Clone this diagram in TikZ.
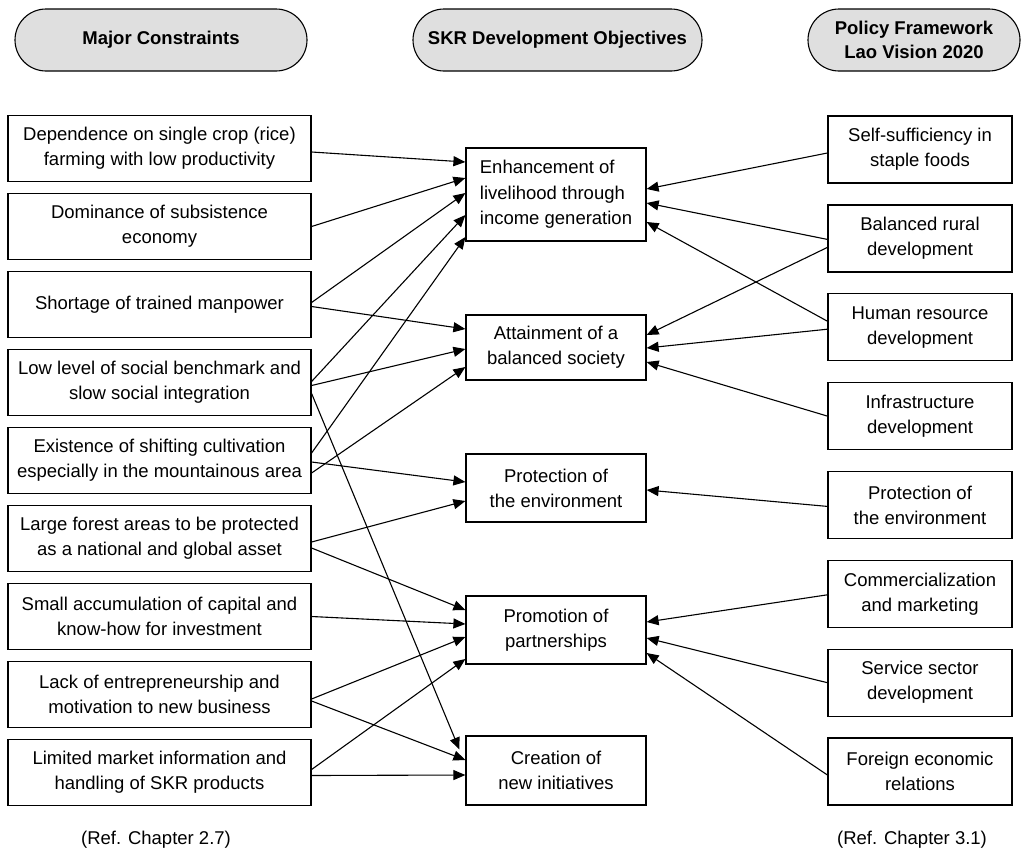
\documentclass[tikz,border=0pt]{standalone}
\usepackage{fontspec}
\setmainfont{Liberation Sans}
\usetikzlibrary{arrows.meta,shapes.misc,calc}

% connector from a constraint box (east side) to an objective box (west side)
\newcommand\lkL[4]{\draw[link] ($(#1.east)+(0,#2)$) -- ($(#3.west)+(0,#4)$);}
% connector from a policy box (west side) to an objective box (east side)
\newcommand\lkR[4]{\draw[link] ($(#1.west)+(0,#2)$) -- ($(#3.east)+(0,#4)$);}

\begin{document}
\begin{tikzpicture}[x=1pt,y=-1pt,
  every node/.style={font=\fontsize{18.5}{25}\selectfont},
  box/.style={draw, line width=1.2pt, inner sep=0pt, align=center},
  lbox/.style={box, minimum width=303pt, minimum height=66pt},
  mbox/.style={box, minimum width=180pt, minimum height=67pt},
  rbox/.style={box, minimum width=184pt, minimum height=67pt},
  head/.style={draw, line width=1.1pt, fill=gray!25, rounded rectangle,
    minimum height=62pt, inner sep=0pt, align=center,
    font=\bfseries\fontsize{18.5}{24}\selectfont},
  link/.style={line width=1.1pt, -{Triangle[length=12pt,width=10pt]}}
]
\useasboundingbox (0,0) rectangle (1022,857);

% column headers
\node[head, minimum width=292pt] (h1) at (161,40) {Major Constraints};
\node[head, minimum width=289pt] (h2) at (557.5,40) {SKR Development Objectives};
\node[head, minimum width=212pt] (h3) at (914,40) {Policy Framework\\Lao Vision 2020};

% constraints
\node[lbox] (l1) at (159.5,148.5) {Dependence on single crop (rice)\\farming with low productivity};
\node[lbox] (l2) at (159.5,226.5) {Dominance of subsistence\\economy};
\node[lbox] (l3) at (159.5,304.5) {Shortage of trained manpower};
\node[lbox] (l4) at (159.5,382.5) {Low level of social benchmark and\\slow social integration};
\node[lbox] (l5) at (159.5,460.5) {Existence of shifting cultivation\\especially in the mountainous area};
\node[lbox] (l6) at (159.5,538.5) {Large forest areas to be protected\\as a national and global asset};
\node[lbox] (l7) at (159.5,616.5) {Small accumulation of capital and\\know-how for investment};
\node[lbox] (l8) at (159.5,694.5) {Lack of entrepreneurship and\\motivation to new business};
\node[lbox] (l9) at (159.5,772.5) {Limited market information and\\handling of SKR products};

% objectives
\node[mbox, minimum height=93pt, align=left, font=\fontsize{18.5}{25.5}\selectfont] (en) at (556,194.5) {Enhancement of\\livelihood through\\income generation};
\node[mbox, minimum height=65pt] (at) at (556,347.5) {Attainment of a\\balanced society};
\node[mbox, minimum height=68pt] (pr) at (556,488) {Protection of\\the environment};
\node[mbox, minimum height=68pt] (pm) at (556,630) {Promotion of\\partnerships};
\node[mbox, minimum height=69pt] (cr) at (556,770.5) {Creation of\\new initiatives};

% policy framework
\node[rbox] (r1) at (920,149.5) {Self-sufficiency in\\staple foods};
\node[rbox] (r2) at (920,238.4) {Balanced rural\\development};
\node[rbox] (r3) at (920,327.2) {Human resource\\development};
\node[rbox] (r4) at (920,416.1) {Infrastructure\\development};
\node[rbox] (r5) at (920,504.9) {Protection of\\the environment};
\node[rbox] (r6) at (920,593.8) {Commercialization\\and marketing};
\node[rbox] (r7) at (920,682.7) {Service sector\\development};
\node[rbox] (r8) at (920,771.5) {Foreign economic\\relations};

% references
\node (f1) at (156,840) {(Ref. Chapter 2.7)};
\node (f2) at (912,840) {(Ref. Chapter 3.1)};

% constraints -> objectives
\lkL{l1}{3.5}{en}{-32.5}
\lkL{l2}{0}{en}{-16.5}
\lkL{l3}{-2}{en}{-1.5}
\lkL{l3}{2}{at}{-18.5}
\lkL{l4}{-1}{en}{20.5}
\lkL{l4}{3}{at}{1.5}
\draw[link] ($(l4.east)+(0,11)$) -- ($(cr.west)+(-6,-21)$);
\lkL{l5}{-7.5}{en}{42.5}
\lkL{l5}{12.5}{at}{19.5}
\lkL{l5}{1.5}{pr}{-6}
\lkL{l6}{3.5}{pr}{13}
\lkL{l6}{9.5}{pm}{-20}
\lkL{l7}{0}{pm}{-6}
\lkL{l8}{4.5}{pm}{7}
\lkL{l8}{6.5}{cr}{-10.5}
\lkL{l9}{-3}{pm}{29}
\lkL{l9}{3}{cr}{4.5}

% policy framework -> objectives
\lkR{r1}{3.5}{en}{-5.5}
\lkR{r2}{1}{en}{8.5}
\lkR{r2}{9}{at}{-12.5}
\lkR{r3}{-6}{en}{27.5}
\lkR{r3}{2}{at}{0.5}
\lkR{r4}{0}{at}{14.5}
\lkR{r5}{1.5}{pr}{2}
\lkR{r6}{1}{pm}{-8}
\lkR{r7}{0}{pm}{8}
\lkR{r8}{3.5}{pm}{23}
\end{tikzpicture}
\end{document}
